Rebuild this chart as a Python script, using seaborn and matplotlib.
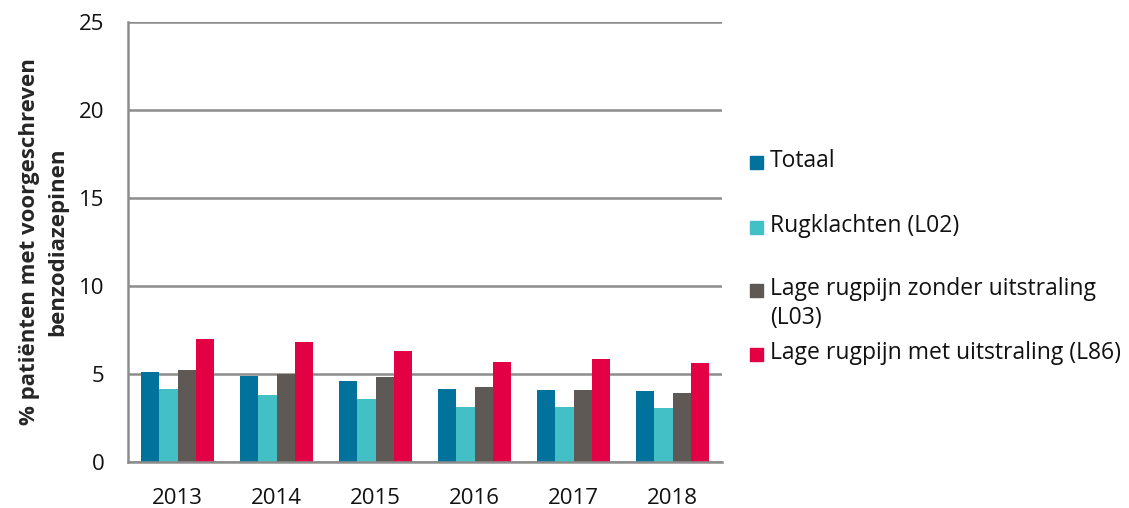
import numpy as np
import pandas as pd
import matplotlib as mpl
import matplotlib.pyplot as plt
import seaborn as sb
from matplotlib.patches import Rectangle
from matplotlib.ticker import MultipleLocator, FixedLocator

years = ['2013', '2014', '2015', '2016', '2017', '2018']
series = ['Totaal', 'Rugklachten (L02)',
          'Lage rugpijn zonder uitstraling\n(L03)',
          'Lage rugpijn met uitstraling (L86)']
totaal = [5.13, 4.89, 4.58, 4.13, 4.07, 4.02]
rugklachten = [4.13, 3.81, 3.58, 3.11, 3.13, 3.07]
zonder_uitstraling = [5.23, 5.02, 4.81, 4.24, 4.09, 3.90]
met_uitstraling = [6.97, 6.82, 6.33, 5.66, 5.83, 5.63]
colors = ['#00729c', '#43c0c6', '#5e5955', '#e30045']

df = pd.DataFrame({'jaar': years * 4,
                   'groep': np.repeat(series, len(years)),
                   'pct': totaal + rugklachten + zonder_uitstraling + met_uitstraling})

sb.set_style('white')
mpl.rcParams['font.family'] = ['Open Sans', 'DejaVu Sans']

fig = plt.figure(figsize=(11.29, 5.08), dpi=100)
ax = fig.add_axes([128 / 1129, 1 - 462 / 508, 594 / 1129, 440 / 508])

sb.barplot(data=df, x='jaar', y='pct', hue='groep', hue_order=series,
           palette=colors, width=0.73, gap=0, saturation=1,
           edgecolor='none', legend=False, ax=ax)

ax.set_ylim(0, 25)
ax.set_xlim(-0.5, 5.5)
ax.yaxis.set_major_locator(MultipleLocator(5))
ax.grid(axis='y', color='#8c8c8c', linewidth=1.8)
ax.set_axisbelow(True)
for side in ['top', 'right']:
    ax.spines[side].set_visible(False)
for side in ['left', 'bottom']:
    ax.spines[side].set_color('#8c8c8c')
    ax.spines[side].set_linewidth(1.8)

ax.tick_params(axis='y', length=8, width=1.8, color='#8c8c8c', labelsize=16,
               labelcolor='#111111', pad=9)
ax.tick_params(axis='x', which='major', length=0, labelsize=16,
               labelcolor='#111111', pad=19)
ax.xaxis.set_minor_locator(FixedLocator(np.arange(-0.5, 6.0, 1.0)))
ax.tick_params(axis='x', which='minor', length=8, width=1.8, color='#8c8c8c')
ax.set_xlabel('')
ax.set_ylabel('% patiënten met voorgeschreven\nbenzodiazepinen', fontsize=16,
              fontweight='bold', labelpad=8, linespacing=1.45)

# legend, Excel-style spacing
legend_y = [163, 228, 291, 355]
for col, lab, yp in zip(colors, series, legend_y):
    fy = 1 - yp / 508
    fig.patches.append(Rectangle((750 / 1129, fy - 6 / 508), 13 / 1129, 13 / 508,
                                 transform=fig.transFigure, color=col))
    fig.text(770 / 1129, fy + 14 / 508, lab, fontsize=16.5, va='top', ha='left',
             color='#111111', linespacing=1.25)

fig.savefig('out.png', dpi=100)
